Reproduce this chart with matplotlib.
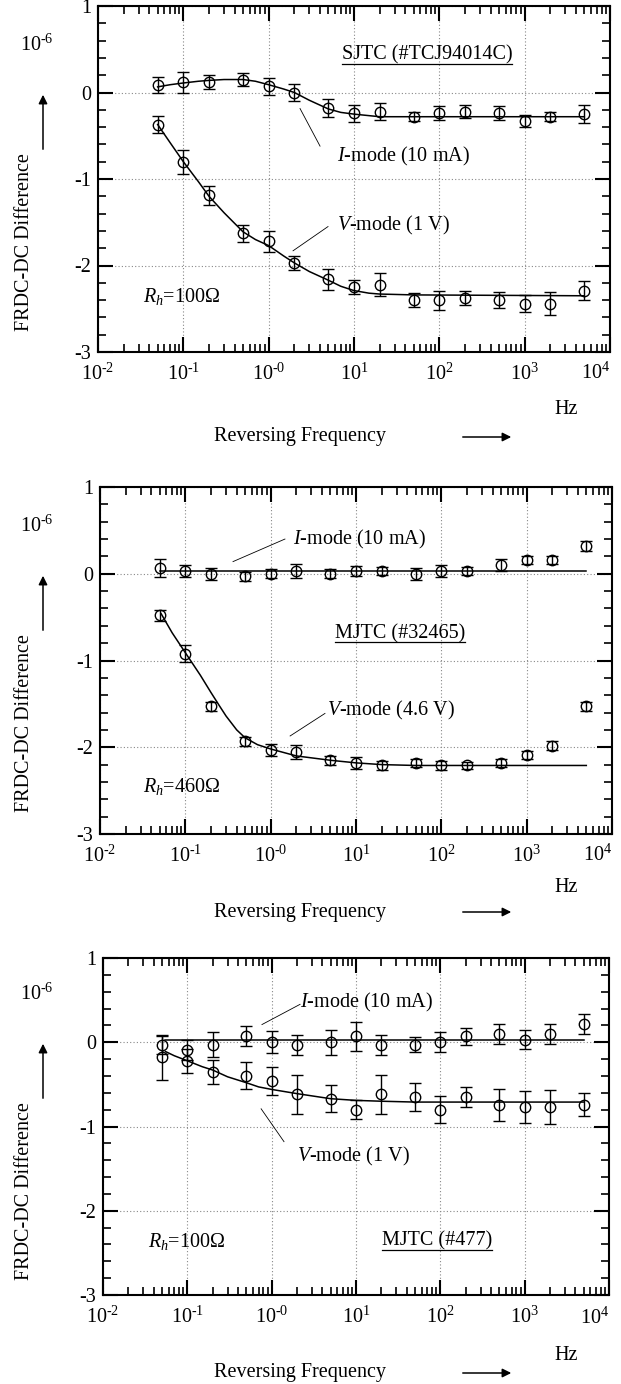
import matplotlib
matplotlib.use("Agg")
import matplotlib.pyplot as plt
from matplotlib.ticker import FixedLocator, FixedFormatter, MultipleLocator, LogLocator, NullFormatter
from matplotlib.patches import FancyArrowPatch
from matplotlib.lines import Line2D
from matplotlib.transforms import blended_transform_factory

plt.rcParams["font.family"] = ["Liberation Serif", "DejaVu Serif"]
plt.rcParams["mathtext.fontset"] = "custom"
plt.rcParams["mathtext.rm"] = "Liberation Serif"
plt.rcParams["mathtext.it"] = "Liberation Serif:italic"
plt.rcParams["axes.unicode_minus"] = False

# ---------------- data ----------------
freq = [0.05, 0.1, 0.2, 0.5, 1, 2, 5, 10, 20, 50, 100, 200, 500, 1000, 2000, 5000]

# SJTC (#TCJ94014C), Rh = 100 ohm
sjtc_i = [0.09, 0.12, 0.12, 0.15, 0.07, 0.0, -0.18, -0.24, -0.22, -0.28, -0.24, -0.22, -0.24, -0.33, -0.28, -0.25]
sjtc_i_err = [0.09, 0.12, 0.08, 0.07, 0.10, 0.10, 0.10, 0.10, 0.10, 0.05, 0.08, 0.07, 0.08, 0.07, 0.05, 0.10]
sjtc_v = [-0.37, -0.80, -1.19, -1.63, -1.72, -1.97, -2.16, -2.25, -2.22, -2.40, -2.40, -2.38, -2.40, -2.44, -2.44, -2.29]
sjtc_v_err = [0.10, 0.14, 0.11, 0.10, 0.12, 0.08, 0.12, 0.08, 0.13, 0.08, 0.11, 0.08, 0.09, 0.10, 0.13, 0.11]
sjtc_i_fit_f = [0.05, 0.07, 0.1, 0.15, 0.2, 0.3, 0.5, 0.7, 1, 1.5, 2, 3, 5, 7, 10, 20, 50, 5000]
sjtc_i_fit = [0.065, 0.09, 0.11, 0.13, 0.14, 0.15, 0.15, 0.13, 0.09, 0.04, 0.0, -0.09, -0.19, -0.23, -0.25, -0.28, -0.28, -0.28]
sjtc_v_fit_f = [0.05, 0.07, 0.1, 0.15, 0.2, 0.3, 0.5, 0.7, 1, 1.5, 2, 3, 5, 7, 10, 15, 20, 50, 5000]
sjtc_v_fit = [-0.37, -0.58, -0.80, -1.03, -1.20, -1.39, -1.61, -1.70, -1.77, -1.89, -1.97, -2.07, -2.17, -2.24, -2.29, -2.32, -2.33, -2.34, -2.35]

# MJTC (#32465), Rh = 460 ohm
mj1_i = [0.066, 0.03, 0.0, -0.03, 0.0, 0.03, 0.0, 0.03, 0.03, 0.0, 0.03, 0.03, 0.10, 0.16, 0.16, 0.32]
mj1_i_err = [0.10, 0.07, 0.07, 0.05, 0.05, 0.08, 0.05, 0.06, 0.05, 0.07, 0.07, 0.05, 0.07, 0.05, 0.05, 0.06]
mj1_v = [-0.48, -0.92, -1.53, -1.93, -2.03, -2.05, -2.15, -2.18, -2.21, -2.18, -2.21, -2.21, -2.18, -2.09, -1.98, -1.53]
mj1_v_err = [0.06, 0.10, 0.05, 0.05, 0.07, 0.08, 0.05, 0.07, 0.05, 0.05, 0.05, 0.04, 0.05, 0.05, 0.05, 0.05]
mj1_i_fit_f = [0.05, 5000]
mj1_i_fit = [0.03, 0.03]
mj1_v_fit_f = [0.052, 0.07, 0.1, 0.15, 0.2, 0.25, 0.3, 0.4, 0.5, 0.7, 1, 2, 5, 10, 20, 50, 5000]
mj1_v_fit = [-0.46, -0.68, -0.91, -1.17, -1.37, -1.52, -1.64, -1.80, -1.89, -1.97, -2.02, -2.10, -2.15, -2.18, -2.20, -2.21, -2.21]

# MJTC (#477), Rh = 100 ohm
mj2_i = [-0.03, -0.09, -0.03, 0.07, 0.0, -0.03, 0.0, 0.07, -0.03, -0.03, 0.0, 0.07, 0.10, 0.03, 0.10, 0.22]
mj2_i_err = [0.11, 0.12, 0.15, 0.12, 0.13, 0.12, 0.15, 0.17, 0.12, 0.09, 0.12, 0.10, 0.12, 0.11, 0.12, 0.12]
mj2_v = [-0.18, -0.22, -0.35, -0.40, -0.46, -0.62, -0.67, -0.80, -0.62, -0.65, -0.80, -0.65, -0.74, -0.77, -0.77, -0.74]
mj2_v_err = [0.27, 0.14, 0.14, 0.16, 0.17, 0.23, 0.16, 0.11, 0.23, 0.17, 0.16, 0.12, 0.19, 0.19, 0.20, 0.14]
mj2_i_fit_f = [0.055, 5000]
mj2_i_fit = [0.03, 0.03]
mj2_v_fit_f = [0.055, 0.07, 0.1, 0.15, 0.2, 0.3, 0.5, 0.7, 1, 2, 5, 10, 20, 50, 5000]
mj2_v_fit = [-0.11, -0.16, -0.22, -0.29, -0.33, -0.41, -0.48, -0.53, -0.56, -0.61, -0.67, -0.69, -0.70, -0.71, -0.71]

x_tick_exponents = ["-2", "-1", "-0", "1", "2", "3", "4"]
y_ticks = [1, 0, -1, -2, -3]

FS = 14.5
W, H = 621, 1384

fig = plt.figure(figsize=(W / 100, H / 100), dpi=100)


def fx(px):
    return px / W


def fy(py):
    return 1 - py / H


def power_label(exp):
    return r"10$^{\text{%s}}$" % exp


def make_axes(left, right, top, bottom):
    ax = fig.add_axes([fx(left), fy(bottom), (right - left) / W, (bottom - top) / H])
    ax.set_xscale("log")
    ax.set_xlim(1e-2, 1e4)
    ax.set_ylim(-3, 1)
    ax.xaxis.set_major_locator(FixedLocator([10.0 ** k for k in range(-2, 5)]))
    # the last decade label is placed separately so it stays inside the figure
    labels = [power_label(e) for e in x_tick_exponents[:-1]] + [""]
    ax.xaxis.set_major_formatter(FixedFormatter(labels))
    ax.xaxis.set_minor_locator(LogLocator(base=10, subs=range(2, 10), numticks=20))
    ax.xaxis.set_minor_formatter(NullFormatter())
    ax.yaxis.set_major_locator(FixedLocator(y_ticks))
    ax.yaxis.set_major_formatter(FixedFormatter([str(v) for v in y_ticks]))
    ax.yaxis.set_minor_locator(MultipleLocator(0.2))
    ax.tick_params(which="both", direction="in", top=True, right=True, labelsize=FS)
    ax.tick_params(which="major", length=11, width=1.5)
    ax.tick_params(which="minor", length=6, width=1.2)
    ax.tick_params(axis="x", which="major", pad=8)
    ax.tick_params(axis="y", which="major", pad=5)
    for s in ax.spines.values():
        s.set_linewidth(1.5)
    ax.grid(which="major", linestyle=(0, (1, 2)), color="#888888", linewidth=0.8)
    return ax


def series(ax, y, err, fit_f, fit):
    ax.plot(fit_f, fit, color="k", lw=1.1, zorder=3)
    ax.errorbar(freq, y, yerr=err, fmt="o", ms=7.5, mfc="none", mec="k", mew=1.0,
                ecolor="k", elinewidth=1.0, capsize=4, capthick=1.0, zorder=4)


def leader(ax, p0, p1):
    ax.plot([p0[0], p1[0]], [p0[1], p1[1]], color="k", lw=0.6, zorder=2)


def label(ax, x, y, s, ha="left"):
    return ax.text(x, y, s, fontsize=FS, ha=ha, va="center")


underline_targets = []


def side_labels(ax, zero_py, ticklab_py, hz_py, rf_py):
    fig.text(fx(37), fy(zero_py - 49), power_label("-6"), fontsize=FS, ha="center", va="center")
    fig.add_artist(FancyArrowPatch((fx(43), fy(zero_py + 58)), (fx(43), fy(zero_py - 2)),
                                   transform=fig.transFigure, arrowstyle="-|>",
                                   mutation_scale=13, lw=1.1, color="k"))
    fig.text(fx(25), fy(zero_py + 148), "FRDC-DC Difference", fontsize=FS, rotation=90,
             ha="center", va="center")
    trans = blended_transform_factory(ax.transData, fig.transFigure)
    ax.text(1e4, fy(ticklab_py), power_label(x_tick_exponents[-1]), fontsize=FS,
            ha="right", va="center", transform=trans, clip_on=False)
    fig.text(fx(566), fy(hz_py), "Hz", fontsize=FS, ha="center", va="center")
    fig.text(fx(300), fy(rf_py), "Reversing Frequency", fontsize=FS, ha="center", va="center")
    fig.add_artist(FancyArrowPatch((fx(460), fy(rf_py)), (fx(514), fy(rf_py)),
                                   transform=fig.transFigure, arrowstyle="-|>",
                                   mutation_scale=13, lw=1.1, color="k"))


# ---------- panel 1: SJTC ----------
ax1 = make_axes(98, 610, 6, 352)
series(ax1, sjtc_i, sjtc_i_err, sjtc_i_fit_f, sjtc_i_fit)
series(ax1, sjtc_v, sjtc_v_err, sjtc_v_fit_f, sjtc_v_fit)
underline_targets.append(label(ax1, 72, 0.43, "SJTC (#TCJ94014C)", ha="center"))
label(ax1, 6.3, -0.74, "$I$-mode (10 mA)")
leader(ax1, (4.0, -0.62), (2.33, -0.185))
label(ax1, 6.3, -1.54, "$V$-mode (1 V)")
leader(ax1, (4.96, -1.55), (1.93, -1.83))
label(ax1, 0.0336, -2.36, "$R_h$=100Ω")
side_labels(ax1, 94, 373, 410, 437)

# ---------- panel 2: MJTC #32465 ----------
ax2 = make_axes(100, 612, 487, 834)
series(ax2, mj1_i, mj1_i_err, mj1_i_fit_f, mj1_i_fit)
series(ax2, mj1_v, mj1_v_err, mj1_v_fit_f, mj1_v_fit)
label(ax2, 1.83, 0.40, "$I$-mode (10 mA)")
leader(ax2, (1.47, 0.40), (0.362, 0.14))
underline_targets.append(label(ax2, 32.8, -0.69, "MJTC (#32465)", ha="center"))
label(ax2, 4.57, -1.58, "$V$-mode (4.6 V)")
leader(ax2, (4.33, -1.61), (1.69, -1.87))
label(ax2, 0.032, -2.45, "$R_h$=460Ω")
side_labels(ax2, 575, 855, 888, 912)

# ---------- panel 3: MJTC #477 ----------
ax3 = make_axes(103, 609, 958, 1295)
series(ax3, mj2_i, mj2_i_err, mj2_i_fit_f, mj2_i_fit)
series(ax3, mj2_v, mj2_v_err, mj2_v_fit_f, mj2_v_fit)
label(ax3, 2.17, 0.47, "$I$-mode (10 mA)")
leader(ax3, (2.17, 0.45), (0.767, 0.21))
label(ax3, 2.0, -1.36, "$V$-mode (1 V)")
leader(ax3, (1.4, -1.18), (0.75, -0.79))
label(ax3, 0.034, -2.36, "$R_h$=100Ω")
underline_targets.append(label(ax3, 91, -2.36, "MJTC (#477)", ha="center"))
side_labels(ax3, 1043, 1318, 1355, 1373)

# underline the device names
fig.canvas.draw()
inv = fig.transFigure.inverted()
for t in underline_targets:
    bb = t.get_window_extent()
    (x0, y0), (x1, _) = inv.transform([(bb.x0, bb.y0 + 1), (bb.x1, bb.y0 + 1)])
    fig.add_artist(Line2D([x0, x1], [y0, y0], transform=fig.transFigure, color="k", lw=0.9))

fig.savefig("out.png", dpi=100)
